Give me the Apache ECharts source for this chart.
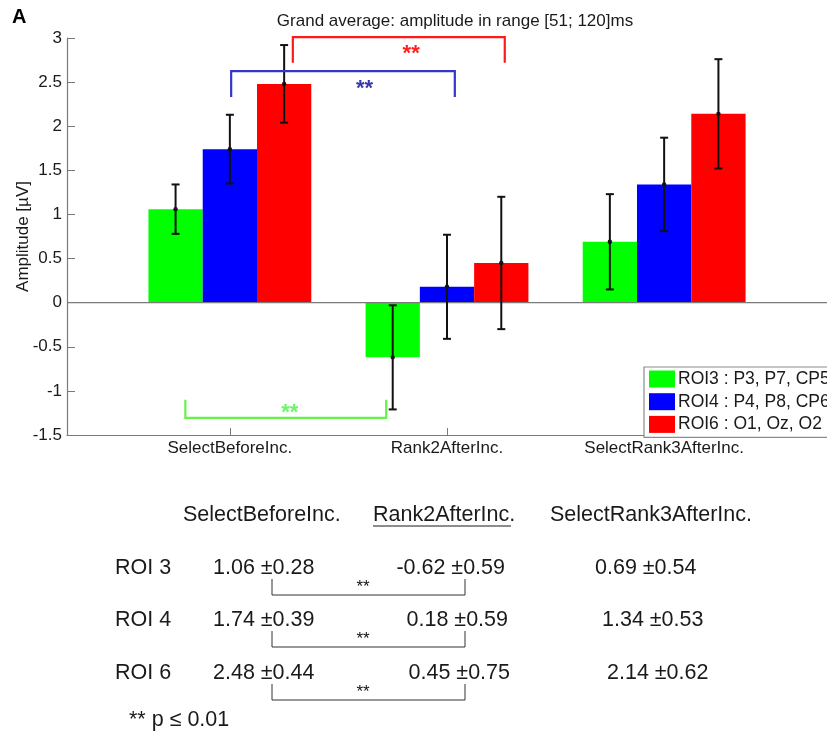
<!DOCTYPE html>
<html>
<head>
<meta charset="utf-8">
<script src="https://cdn.jsdelivr.net/npm/echarts@6/dist/echarts.min.js"></script>
<style>
html,body{margin:0;padding:0;background:#fff;}
#main{width:827px;height:733px;}
</style>
</head>
<body>
<div id="main"></div>
<script>
// ---------------- data ----------------
const categories = ['SelectBeforeInc.', 'Rank2AfterInc.', 'SelectRank3AfterInc.'];
const seriesNames = ['ROI3 : P3, P7, CP5', 'ROI4 : P4, P8, CP6', 'ROI6 : O1, Oz, O2'];
const tableRowNames = ['ROI 3', 'ROI 4', 'ROI 6'];
const roi3Mean = [1.06, -0.62, 0.69];
const roi3Err  = [0.28, 0.59, 0.54];
const roi4Mean = [1.74, 0.18, 1.34];
const roi4Err  = [0.39, 0.59, 0.53];
const roi6Mean = [2.48, 0.45, 2.14];
const roi6Err  = [0.44, 0.75, 0.62];
const yTickValues = [-1.5, -1, -0.5, 0, 0.5, 1, 1.5, 2, 2.5, 3];
const titleText = 'Grand average: amplitude in range [51; 120]ms';
const yAxisName = 'Amplitude [\u00b5V]';
const sigLabel = '**';
const footnote = '** p \u2264 0.01';
// significance brackets (data units): left x, right x, bracket level, end level, star position
const sigLeft   = [1.006, 1.29, 0.795];
const sigRight  = [2.036, 2.266, 1.72];
const sigLevel  = [2.625, 3.01, -1.307];
const sigEnd    = [2.33, 2.72, -1.10];
const sigStarX  = [1.62, 1.835, 1.276];
const sigStarY  = [2.48, 2.875, -1.19];

// ---------------- styles ----------------
const barColors = ['#00ff00', '#0000ff', '#ff0000'];
const sigColors = ['#3535c8', '#ff1a1a', '#66f24a'];
const starColors = ['#3a3ab0', '#ff2020', '#6cf46c'];
const FONT = 'Liberation Sans, Arial, sans-serif';
const groupOffsets = [-0.25, 0, 0.25];
const barHalf = 0.125;

const rois = [
  {name: seriesNames[0], mean: roi3Mean, err: roi3Err, color: barColors[0]},
  {name: seriesNames[1], mean: roi4Mean, err: roi4Err, color: barColors[1]},
  {name: seriesNames[2], mean: roi6Mean, err: roi6Err, color: barColors[2]}
];

const series = [];
rois.forEach((r, k) => {
  series.push({
    type: 'custom',
    name: r.name,
    itemStyle: {color: r.color},
    encode: {x: 0, y: 1},
    z: 2,
    data: categories.map((c, i) => [i + 1 + groupOffsets[k], r.mean[i]]),
    renderItem: (params, api) => {
      const x = api.value(0), v = api.value(1);
      const a = api.coord([x - barHalf, v]);
      const b = api.coord([x + barHalf, 0]);
      return {
        type: 'rect',
        shape: {x: a[0], y: Math.min(a[1], b[1]), width: b[0] - a[0], height: Math.abs(b[1] - a[1])},
        style: {fill: r.color}
      };
    }
  });
});

// zero baseline
series.push({
  type: 'custom', name: 'zero', silent: true, z: 3,
  data: [[0]],
  renderItem: (params, api) => {
    const a = api.coord([0.25, 0]);
    const b = api.coord([3.75, 0]);
    return {type: 'line', shape: {x1: a[0], y1: a[1], x2: b[0], y2: b[1]}, style: {stroke: '#7a7a7a', lineWidth: 1.2}};
  }
});

// error bars
const errData = [];
rois.forEach((r, k) => categories.forEach((c, i) => errData.push([i + 1 + groupOffsets[k], r.mean[i], r.err[i]])));
series.push({
  type: 'custom', name: 'err', silent: true, z: 5,
  data: errData,
  renderItem: (params, api) => {
    const x = api.value(0), m = api.value(1), e = api.value(2);
    const lo = api.coord([x, m - e]);
    const hi = api.coord([x, m + e]);
    const mid = api.coord([x, m]);
    const cap = 4;
    const st = {stroke: '#111', lineWidth: 2};
    return {
      type: 'group',
      children: [
        {type: 'line', shape: {x1: lo[0], y1: lo[1], x2: hi[0], y2: hi[1]}, style: st},
        {type: 'line', shape: {x1: lo[0] - cap, y1: lo[1], x2: lo[0] + cap, y2: lo[1]}, style: st},
        {type: 'line', shape: {x1: hi[0] - cap, y1: hi[1], x2: hi[0] + cap, y2: hi[1]}, style: st},
        {type: 'circle', shape: {cx: mid[0], cy: mid[1], r: 2.2}, style: {fill: '#111'}}
      ]
    };
  }
});

// significance brackets
series.push({
  type: 'custom', name: 'sig', silent: true, z: 6,
  data: sigLeft.map((v, i) => [i]),
  renderItem: (params, api) => {
    const i = params.dataIndex;
    const p1 = api.coord([sigLeft[i], sigEnd[i]]);
    const p2 = api.coord([sigLeft[i], sigLevel[i]]);
    const p3 = api.coord([sigRight[i], sigLevel[i]]);
    const p4 = api.coord([sigRight[i], sigEnd[i]]);
    const s = api.coord([sigStarX[i], sigStarY[i]]);
    return {
      type: 'group',
      children: [
        {type: 'polyline', shape: {points: [p1, p2, p3, p4]}, style: {stroke: sigColors[i], lineWidth: 2.2, fill: null}},
        {type: 'text', x: s[0], y: s[1] + 5, style: {text: sigLabel, fill: starColors[i], font: 'bold 22px ' + FONT, align: 'center', verticalAlign: 'middle'}}
      ]
    };
  }
});

// ---------------- table (graphic) ----------------
const graphics = [];
graphics.push({type: 'text', left: 12, top: 7, style: {text: 'A', font: 'bold 20px ' + FONT, fill: '#000'}});
const headerY = 515;
const tFont = '21.5px ' + FONT;
const txt = (x, y, s, align) => ({type: 'text', x: x, y: y, style: {text: s, font: tFont, fill: '#1a1a1a', align: align || 'left', verticalAlign: 'middle'}});
graphics.push(txt(183, headerY, categories[0]));
graphics.push(txt(373, headerY, categories[1]));
graphics.push({type: 'line', shape: {x1: 373, y1: 526, x2: 511, y2: 526}, style: {stroke: '#1a1a1a', lineWidth: 1}});
graphics.push(txt(550, headerY, categories[2]));
const rowY = [568, 620, 673];
const col2Right = [505, 508, 510];
const col3Left = [595, 602, 607];
const fmt = (m, e) => m.toFixed(2) + ' \u00b1' + e.toFixed(2);
rois.forEach((r, k) => {
  graphics.push(txt(115, rowY[k], tableRowNames[k]));
  graphics.push(txt(213, rowY[k], fmt(r.mean[0], r.err[0])));
  graphics.push(txt(col2Right[k], rowY[k], fmt(r.mean[1], r.err[1]), 'right'));
  graphics.push(txt(col3Left[k], rowY[k], fmt(r.mean[2], r.err[2])));
  const top = rowY[k] + 11, bot = rowY[k] + 27;
  graphics.push({type: 'polyline', shape: {points: [[272, top], [272, bot], [465, bot], [465, top]]}, style: {stroke: '#333', lineWidth: 1, fill: null}});
  graphics.push({type: 'text', x: 363, y: rowY[k] + 19, style: {text: sigLabel, font: '17px ' + FONT, fill: '#111', align: 'center', verticalAlign: 'middle'}});
});
graphics.push(txt(129, 720, footnote));

// ---------------- chart ----------------
const chart = echarts.init(document.getElementById('main'));
chart.setOption({
  animation: false,
  backgroundColor: '#fff',
  title: {
    text: titleText, left: 450, top: 8, textAlign: 'center',
    textStyle: {fontFamily: FONT, fontSize: 17, fontWeight: 'normal', color: '#1a1a1a'}
  },
  legend: {
    data: seriesNames,
    orient: 'vertical',
    left: 644, top: 367,
    padding: [3, 4, 4, 5],
    itemWidth: 26, itemHeight: 17, itemGap: 4.7,
    icon: 'rect',
    backgroundColor: '#fff',
    borderColor: '#8c8c8c', borderWidth: 1.2, borderRadius: 0,
    textStyle: {fontFamily: FONT, fontSize: 17.5, color: '#1a1a1a', padding: [0, 0, 0, -2]},
    selectedMode: false
  },
  grid: {left: 67, top: 38, width: 765, height: 397, containLabel: false},
  xAxis: {
    type: 'value', min: 0.25, max: 3.75,
    axisLine: {onZero: false, lineStyle: {color: '#7a7a7a', width: 1.2}},
    axisTick: {inside: true, length: 7, customValues: [1, 2, 3], lineStyle: {color: '#7a7a7a'}},
    axisLabel: {
      customValues: [1, 2, 3],
      formatter: v => categories[Math.round(v) - 1] || '',
      fontFamily: FONT, fontSize: 17, color: '#1a1a1a', margin: 5
    },
    splitLine: {show: false}
  },
  yAxis: {
    type: 'value', min: yTickValues[0], max: yTickValues[yTickValues.length - 1], interval: 0.5,
    name: yAxisName, nameLocation: 'middle', nameGap: 35, nameMoveOverlap: false,
    nameTextStyle: {fontFamily: FONT, fontSize: 17, color: '#1a1a1a'},
    axisLine: {show: true, lineStyle: {color: '#7a7a7a', width: 1.2}},
    axisTick: {show: true, inside: true, length: 8, lineStyle: {color: '#7a7a7a'}},
    axisLabel: {fontFamily: FONT, fontSize: 17, color: '#1a1a1a', margin: 5},
    splitLine: {show: false}
  },
  series: series,
  graphic: graphics
});
</script>
</body>
</html>
